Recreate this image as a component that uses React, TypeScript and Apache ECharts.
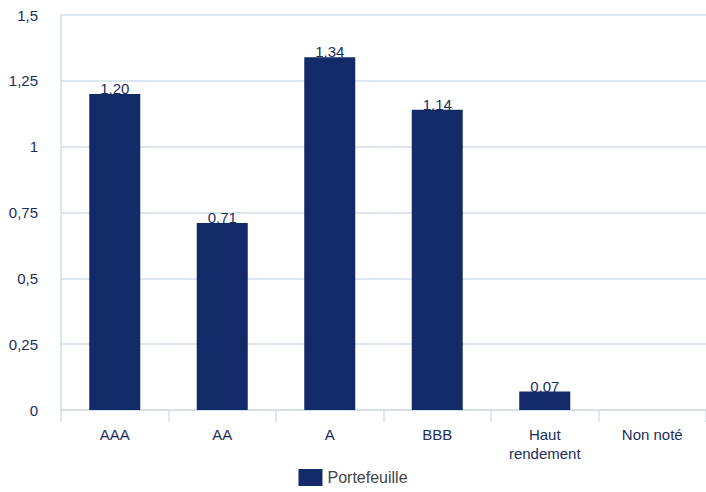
import React, { useEffect, useRef } from "react";
import * as echarts from "echarts";

const categories = ["AAA", "AA", "A", "BBB", "Haut\nrendement", "Non noté"];
const portefeuille: (number | null)[] = [1.2, 0.71, 1.34, 1.14, 0.07, null];
const seriesName = "Portefeuille";

const navy = "#122b68";
const textNavy = "#1c2d5c";
const lineColor = "#d3deea";
const font = "'Liberation Sans', Arial, Helvetica, sans-serif";

export default function App() {
  const ref = useRef<HTMLDivElement>(null);
  useEffect(() => {
    const chart = echarts.init(ref.current!, null, { renderer: "svg" });
    chart.setOption({
      animation: false,
      textStyle: { fontFamily: font },
      grid: { left: 61, right: 0, top: 15, bottom: 82, containLabel: false },
      legend: {
        bottom: 1,
        left: "center",
        itemWidth: 24,
        itemHeight: 17,
        itemGap: 10,
        icon: "rect",
        textStyle: { fontSize: 16, color: "#444", fontFamily: font },
        data: [seriesName],
      },
      xAxis: {
        type: "category",
        data: categories,
        axisLine: { lineStyle: { color: lineColor, width: 1.5 } },
        axisTick: { show: true, length: 12, lineStyle: { color: lineColor, width: 1.5 } },
        axisLabel: { color: textNavy, fontSize: 15, margin: 15, lineHeight: 19, fontFamily: font },
      },
      yAxis: {
        type: "value",
        min: 0,
        max: 1.5,
        interval: 0.25,
        axisLine: { show: true, lineStyle: { color: lineColor, width: 1.5 } },
        axisTick: { show: false },
        splitLine: { lineStyle: { color: lineColor, width: 1.5 } },
        axisLabel: {
          color: textNavy,
          fontSize: 15,
          margin: 23,
          fontFamily: font,
          formatter: (v: number) => String(v).replace(".", ","),
        },
      },
      series: [
        {
          name: seriesName,
          type: "bar",
          data: portefeuille,
          barWidth: 51,
          itemStyle: { color: navy },
          label: {
            show: true,
            position: "top",
            distance: -2,
            color: textNavy,
            fontSize: 15,
            fontFamily: font,
            formatter: (p: any) => (p.value == null ? "" : p.value.toFixed(2).replace(".", ",")),
          },
        },
      ],
    });
    return () => chart.dispose();
  }, []);
  return <div ref={ref} style={{ width: 706, height: 492, position: "absolute", left: 0, top: 0 }} />;
}
